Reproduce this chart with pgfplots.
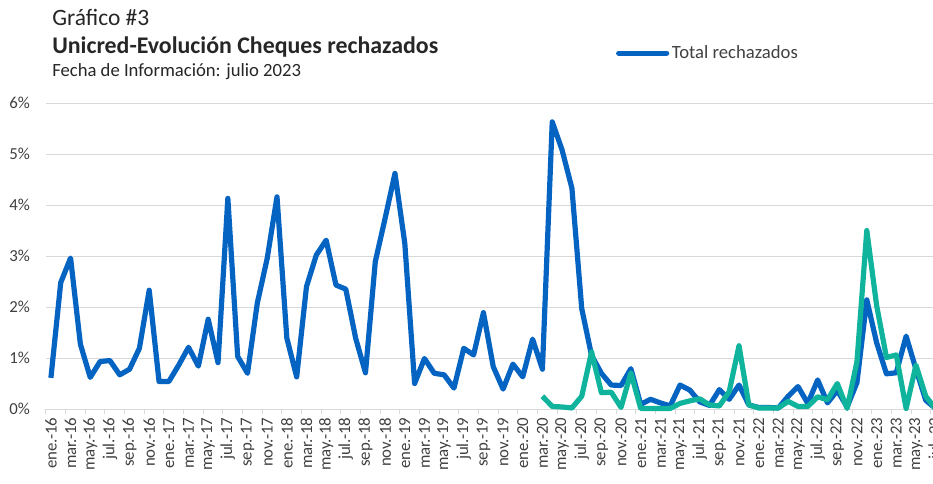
\documentclass[border=0pt]{standalone}
\usepackage{pgfplots}
\pgfplotsset{compat=1.18}
\usepackage{pgfplotstable}
\usepackage{fontspec}
\setmainfont{Carlito}

\definecolor{azul}{HTML}{0563C1}
\definecolor{verde}{HTML}{10B39B}
\definecolor{rejilla}{HTML}{D9D9D9}
\definecolor{gristexto}{HTML}{404040}
\definecolor{titulo}{HTML}{262626}

% mes (0 = ene.-16) y porcentaje rechazado
\pgfplotstableread{
m v
0 0.61
1 2.48
2 2.96
3 1.27
4 0.62
5 0.93
6 0.95
7 0.67
8 0.78
9 1.19
10 2.33
11 0.54
12 0.54
13 0.86
14 1.21
15 0.84
16 1.76
17 0.91
18 4.13
19 1.03
20 0.70
21 2.08
22 2.95
23 4.16
24 1.39
25 0.63
26 2.40
27 3.02
28 3.31
29 2.43
30 2.35
31 1.39
32 0.71
33 2.89
34 3.74
35 4.62
36 3.25
37 0.50
38 0.99
39 0.70
40 0.67
41 0.41
42 1.19
43 1.06
44 1.89
45 0.83
46 0.39
47 0.88
48 0.63
49 1.37
50 0.78
51 5.63
52 5.08
53 4.33
54 1.97
55 1.05
56 0.70
57 0.47
58 0.46
59 0.79
60 0.09
61 0.19
62 0.12
63 0.06
64 0.47
65 0.37
66 0.14
67 0.07
68 0.38
69 0.19
70 0.47
71 0.08
72 0.03
73 0.03
74 0.02
75 0.25
76 0.44
77 0.11
78 0.57
79 0.12
80 0.36
81 0.04
82 0.52
83 2.14
84 1.30
85 0.69
86 0.71
87 1.43
88 0.78
89 0.17
90 0.01
}\total

\pgfplotstableread{
m v
50 0.25
51 0.05
52 0.04
53 0.02
54 0.25
55 1.12
56 0.32
57 0.33
58 0.03
59 0.71
60 0.01
61 0.01
62 0.01
63 0.01
64 0.11
65 0.16
66 0.20
67 0.08
68 0.06
69 0.34
70 1.24
71 0.08
72 0.02
73 0.02
74 0.02
75 0.15
76 0.05
77 0.05
78 0.24
79 0.18
80 0.50
81 0.01
82 0.93
83 3.50
84 2.03
85 1.01
86 1.06
87 0.01
88 0.86
89 0.25
90 0.00
}\segunda

\begin{document}
\begin{tikzpicture}
\begin{axis}[
  at={(34.5pt,55.5pt)}, anchor=south west,
  width=670.9pt, height=229.5pt, scale only axis,
  xmin=-0.5, xmax=90.5, ymin=0, ymax=6,
  clip=false,
  axis line style={draw=none},
  ymajorgrids, grid style={rejilla, line width=0.75pt},
  ytick={0,1,...,6},
  yticklabel={\pgfmathprintnumber{\tick}\%},
  /pgf/number format/assume math mode=true,
  xtick={0,2,...,90},
  xticklabels={ene.-16,mar.-16,may.-16,jul.-16,sep.-16,nov.-16,
    ene.-17,mar.-17,may.-17,jul.-17,sep.-17,nov.-17,
    ene.-18,mar.-18,may.-18,jul.-18,sep.-18,nov.-18,
    ene.-19,mar.-19,may.-19,jul.-19,sep.-19,nov.-19,
    ene.-20,mar.-20,may.-20,jul.-20,sep.-20,nov.-20,
    ene.-21,mar.-21,may.-21,jul.-21,sep.-21,nov.-21,
    ene.-22,mar.-22,may.-22,jul.-22,sep.-22,nov.-22,
    ene.-23,mar.-23,may.-23,jul.-23},
  minor xtick={-0.5,1.5,...,89.5},
  major tick length=0pt, minor tick length=3.75pt,
  tick align=outside, tick pos=left,
  minor x tick style={rejilla, line width=0.75pt},
  tick label style={font=\fontsize{12.6}{14}\selectfont, text=gristexto},
  xticklabel style={rotate=90, anchor=east, inner sep=0pt, outer xsep=6.5pt},
  yticklabel style={anchor=east, inner sep=0pt, outer xsep=12pt},
  legend style={at={(axis description cs:0.637,1.163)}, anchor=west,
    draw=none, fill=none, inner sep=0pt,
    font=\fontsize{14}{16}\selectfont, text=gristexto},
  legend image code/.code={\draw[#1, line cap=round] (2pt,0pt) -- (38pt,0pt);},
]
\addplot[azul, line width=3.9pt, line join=round] table[x=m, y=v] {\total};
\addlegendentry{Total rechazados}
\addplot[verde, line width=3.9pt, line join=round, forget plot] table[x=m, y=v] {\segunda};
\end{axis}
\node[anchor=base west, inner sep=0pt, text=titulo, font=\fontsize{17.6}{20}\selectfont] at (39pt,342.75pt) {Gráfico \#3};
\node[anchor=base west, inner sep=0pt, text=titulo, font=\bfseries\fontsize{17.9}{20}\selectfont] at (39pt,321.75pt) {Unicred-Evolución Cheques rechazados};
\node[anchor=base west, inner sep=0pt, text=titulo, font=\fontsize{14}{16}\selectfont] at (39pt,304.5pt) {Fecha de Información: julio 2023};
\pgfresetboundingbox
\path[use as bounding box] (0pt,0pt) rectangle (699.75pt,362.25pt);
\end{tikzpicture}
\end{document}
